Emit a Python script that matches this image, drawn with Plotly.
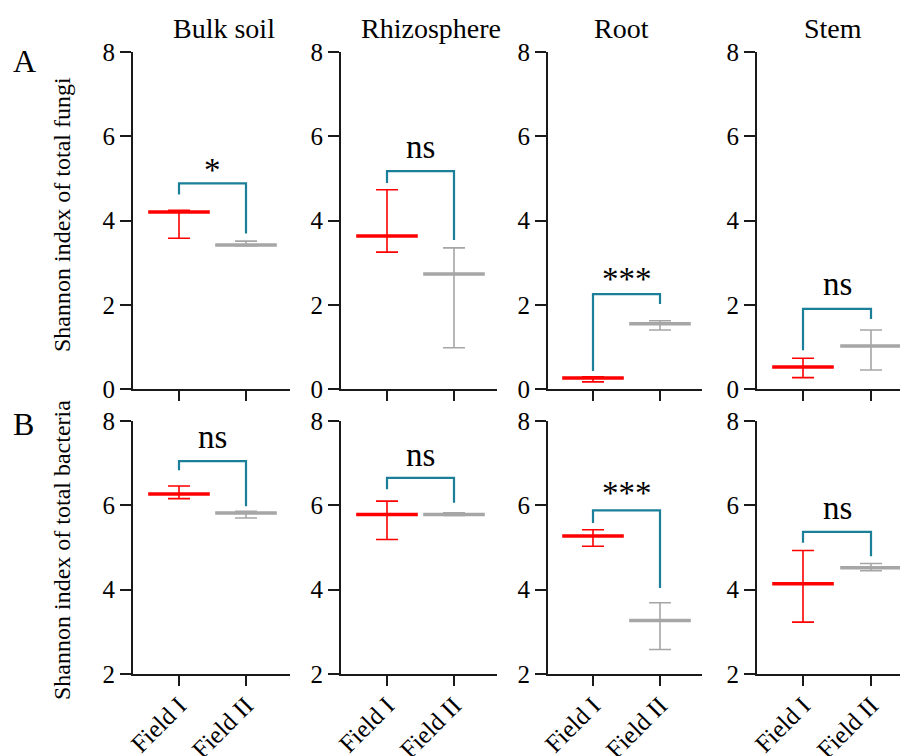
import plotly.graph_objects as go

# ---------------- data ----------------
panels = ["Bulk soil", "Rhizosphere", "Root", "Stem"]
groups = ["Field I", "Field II"]

# Top row: Shannon index of total fungi
fungi_mean_I = [4.20, 3.63, 0.26, 0.52]
fungi_hi_I = [4.24, 4.73, 0.29, 0.73]
fungi_lo_I = [3.58, 3.25, 0.17, 0.27]
fungi_mean_II = [3.42, 2.73, 1.55, 1.02]
fungi_hi_II = [3.51, 3.35, 1.62, 1.40]
fungi_lo_II = [3.40, 0.98, 1.40, 0.45]
fungi_sig = ["*", "ns", "***", "ns"]
fungi_bracket_top = [4.88, 5.17, 2.25, 1.90]
fungi_leg_I = [4.62, 4.89, 0.43, 0.92]
fungi_leg_II = [3.69, 3.54, 2.02, 1.66]
fungi_label_y = [5.19, 5.74, 2.60, 2.50]

# Bottom row: Shannon index of total bacteria
bact_mean_I = [6.27, 5.78, 5.27, 4.14]
bact_hi_I = [6.46, 6.10, 5.42, 4.93]
bact_lo_I = [6.16, 5.19, 5.03, 3.23]
bact_mean_II = [5.82, 5.78, 3.27, 4.52]
bact_hi_II = [5.86, 5.82, 3.69, 4.62]
bact_lo_II = [5.70, 5.76, 2.58, 4.45]
bact_sig = ["ns", "ns", "***", "ns"]
bact_bracket_top = [7.05, 6.65, 5.88, 5.37]
bact_leg_I = [6.83, 6.38, 5.58, 5.11]
bact_leg_II = [5.98, 6.06, 4.04, 4.79]
bact_label_y = [7.62, 7.20, 6.30, 5.93]

fungi_ticks = [0, 2, 4, 6, 8]
bact_ticks = [2, 4, 6, 8]

# ---------------- style / layout ----------------
W, H = 908, 756
PAGE_OFFSET = 8  # default body margin of the html page
FONT = "Liberation Serif"
RED = "#FF0000"
GREY = "#A6A6A6"
TEAL = "#1B7F9A"
AX = "#1a1a1a"

x_px = [(133, 290), (341, 497), (548, 702), (757, 908)]
xI_px = [179, 387, 593, 803]
xII_px = [246, 454, 660, 871]
top_px = (52, 389)
bot_px = (421, 674)


def fx(p):
    return min(1.0, (p - PAGE_OFFSET) / W)


def fy(p):
    return 1 - (p - PAGE_OFFSET) / H


fig = go.Figure()
layout = dict(width=W, height=H, margin=dict(l=0, r=0, t=0, b=0, autoexpand=False),
              paper_bgcolor="white", plot_bgcolor="white", showlegend=False,
              font=dict(family=FONT, color="black"))
annotations = []

rows = [
    dict(mI=fungi_mean_I, hI=fungi_hi_I, lI=fungi_lo_I,
         mII=fungi_mean_II, hII=fungi_hi_II, lII=fungi_lo_II,
         sig=fungi_sig, top=fungi_bracket_top, legI=fungi_leg_I, legII=fungi_leg_II,
         laby=fungi_label_y, ticks=fungi_ticks, rng=[0, 8], ypx=top_px, labels=False),
    dict(mI=bact_mean_I, hI=bact_hi_I, lI=bact_lo_I,
         mII=bact_mean_II, hII=bact_hi_II, lII=bact_lo_II,
         sig=bact_sig, top=bact_bracket_top, legI=bact_leg_I, legII=bact_leg_II,
         laby=bact_label_y, ticks=bact_ticks, rng=[2, 8], ypx=bot_px, labels=True),
]

k = 0
for r, row in enumerate(rows):
    for p in range(4):
        k += 1
        xa = "x" if k == 1 else f"x{k}"
        ya = "y" if k == 1 else f"y{k}"
        xkey = "xaxis" if k == 1 else f"xaxis{k}"
        ykey = "yaxis" if k == 1 else f"yaxis{k}"
        x0, x1 = x_px[p]
        ppu = xII_px[p] - xI_px[p]
        left = -(xI_px[p] - x0) / ppu
        right = (x1 - xI_px[p]) / ppu

        layout[xkey] = dict(domain=[fx(x0), fx(x1)], range=[left, right], anchor=ya,
                            automargin=False,
                            showline=True, linecolor=AX, linewidth=2, mirror=False,
                            showgrid=False, zeroline=False, ticks="outside", ticklen=10,
                            tickwidth=2, tickcolor=AX, tickvals=[0, 1], ticktext=groups,
                            showticklabels=row["labels"], tickangle=-45,
                            ticklabelstandoff=-5,
                            tickfont=dict(family=FONT, size=25, color="black"))
        layout[ykey] = dict(domain=[fy(row["ypx"][1]), fy(row["ypx"][0])], range=row["rng"],
                            anchor=xa, automargin=False, showline=True, linecolor=AX,
                            linewidth=2,
                            showgrid=False, zeroline=False, ticks="outside", ticklen=11,
                            tickwidth=2, tickcolor=AX, tickvals=row["ticks"],
                            tickfont=dict(family=FONT, size=25, color="black"))

        for gi, (m, h, l, col) in enumerate([
                (row["mI"][p], row["hI"][p], row["lI"][p], RED),
                (row["mII"][p], row["hII"][p], row["lII"][p], GREY)]):
            fig.add_trace(go.Scatter(
                x=[gi], y=[m], xaxis=xa, yaxis=ya, mode="markers",
                marker=dict(symbol="line-ew-open", size=44, color=col,
                            line=dict(color=col, width=3.5)),
                error_y=dict(type="data", symmetric=False, array=[h - m],
                             arrayminus=[m - l], color=col, thickness=1.6, width=11),
                hoverinfo="skip"))

        # significance bracket
        fig.add_trace(go.Scatter(
            x=[0, 0, 1, 1],
            y=[row["legI"][p], row["top"][p], row["top"][p], row["legII"][p]],
            xaxis=xa, yaxis=ya, mode="lines",
            line=dict(color=TEAL, width=2.2), hoverinfo="skip"))
        annotations.append(dict(x=0.5, y=row["laby"][p], xref=xa, yref=ya,
                                text=row["sig"][p], showarrow=False,
                                xanchor="center", yanchor="middle",
                                font=dict(family=FONT, size=33, color="black")))

# panel titles
title_px = [224, 431, 621, 833]
for name, tx in zip(panels, title_px):
    annotations.append(dict(x=fx(tx), y=fy(28), xref="paper", yref="paper", text=name,
                            showarrow=False, xanchor="center", yanchor="middle",
                            font=dict(family=FONT, size=28, color="black")))

# row letters
annotations.append(dict(x=fx(24), y=fy(61), xref="paper", yref="paper", text="A",
                        showarrow=False, xanchor="center", yanchor="middle",
                        font=dict(family=FONT, size=32, color="black")))
annotations.append(dict(x=fx(23), y=fy(424), xref="paper", yref="paper", text="B",
                        showarrow=False, xanchor="center", yanchor="middle",
                        font=dict(family=FONT, size=32, color="black")))

# y-axis titles
annotations.append(dict(x=fx(62), y=fy(215), xref="paper", yref="paper",
                        text="Shannon index of total fungi", textangle=-90,
                        showarrow=False, xanchor="center", yanchor="middle",
                        font=dict(family=FONT, size=24, color="black")))
annotations.append(dict(x=fx(62), y=fy(550), xref="paper", yref="paper",
                        text="Shannon index of total bacteria", textangle=-90,
                        showarrow=False, xanchor="center", yanchor="middle",
                        font=dict(family=FONT, size=24, color="black")))

layout["annotations"] = annotations
fig.update_layout(**layout)
fig.write_html("out.html")
